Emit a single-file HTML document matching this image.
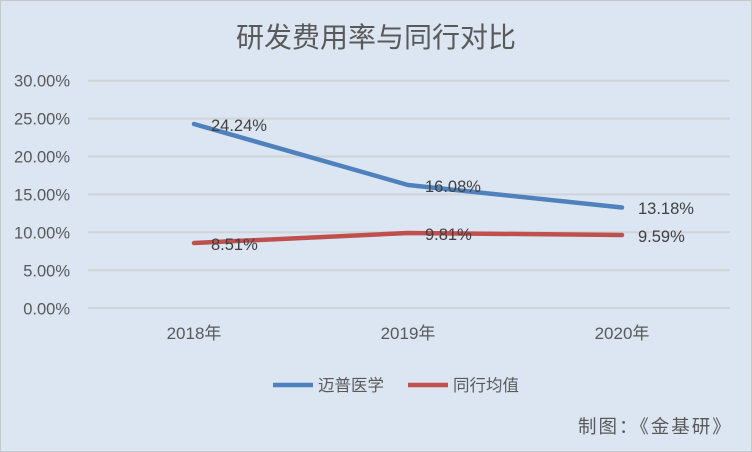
<!DOCTYPE html>
<html><head><meta charset="utf-8"><style>
body{margin:0;width:752px;height:452px;overflow:hidden;background:#dce6f2}
svg{display:block}
text{font-family:"Liberation Sans","Noto Sans CJK SC",sans-serif}
</style></head><body>
<svg width="752" height="452" viewBox="0 0 752 452">
<rect x="0" y="0" width="752" height="452" fill="#dce6f2" stroke="#c8c8c8" stroke-width="2"/>
<text x="376" y="47" text-anchor="middle" font-size="28" fill="#595959">研发费用率与同行对比</text>
<g stroke="#d0d3d8" stroke-width="2">
<line x1="88" y1="80.7" x2="730" y2="80.7"/>
<line x1="88" y1="118.6" x2="730" y2="118.6"/>
<line x1="88" y1="156.5" x2="730" y2="156.5"/>
<line x1="88" y1="194.4" x2="730" y2="194.4"/>
<line x1="88" y1="232.3" x2="730" y2="232.3"/>
<line x1="88" y1="270.2" x2="730" y2="270.2"/>
<line x1="88" y1="308" x2="730" y2="308"/>
</g>
<g font-size="16.5" fill="#595959" text-anchor="end">
<text x="70" y="86.5">30.00%</text>
<text x="70" y="124.5">25.00%</text>
<text x="70" y="162.5">20.00%</text>
<text x="70" y="200.5">15.00%</text>
<text x="70" y="238.5">10.00%</text>
<text x="70" y="276.5">5.00%</text>
<text x="70" y="314.5">0.00%</text>
</g>
<g font-size="17" fill="#595959" text-anchor="middle">
<text x="194" y="339">2018年</text>
<text x="408" y="339">2019年</text>
<text x="622" y="339">2020年</text>
</g>
<polyline points="194,124 408,185 622,207.5" fill="none" stroke="#4f81bd" stroke-width="4.5" stroke-linecap="round" stroke-linejoin="round"/>
<polyline points="194,243 408,233 622,235" fill="none" stroke="#c0504d" stroke-width="4.5" stroke-linecap="round" stroke-linejoin="round"/>
<g font-size="16.5" fill="#404040">
<text x="211" y="131">24.24%</text>
<text x="425" y="192">16.08%</text>
<text x="638" y="214">13.18%</text>
<text x="211" y="250">8.51%</text>
<text x="425" y="240">9.81%</text>
<text x="638" y="242">9.59%</text>
</g>
<line x1="273" y1="385" x2="313" y2="385" stroke="#4f81bd" stroke-width="4.5"/>
<text x="318" y="391" font-size="16.5" fill="#595959">迈普医学</text>
<line x1="408" y1="385" x2="448" y2="385" stroke="#c0504d" stroke-width="4.5"/>
<text x="453" y="391" font-size="16.5" fill="#595959">同行均值</text>
<text x="578" y="433" font-size="18.5" letter-spacing="2" fill="#595959">制图：《金基研》</text>
</svg>
</body></html>
